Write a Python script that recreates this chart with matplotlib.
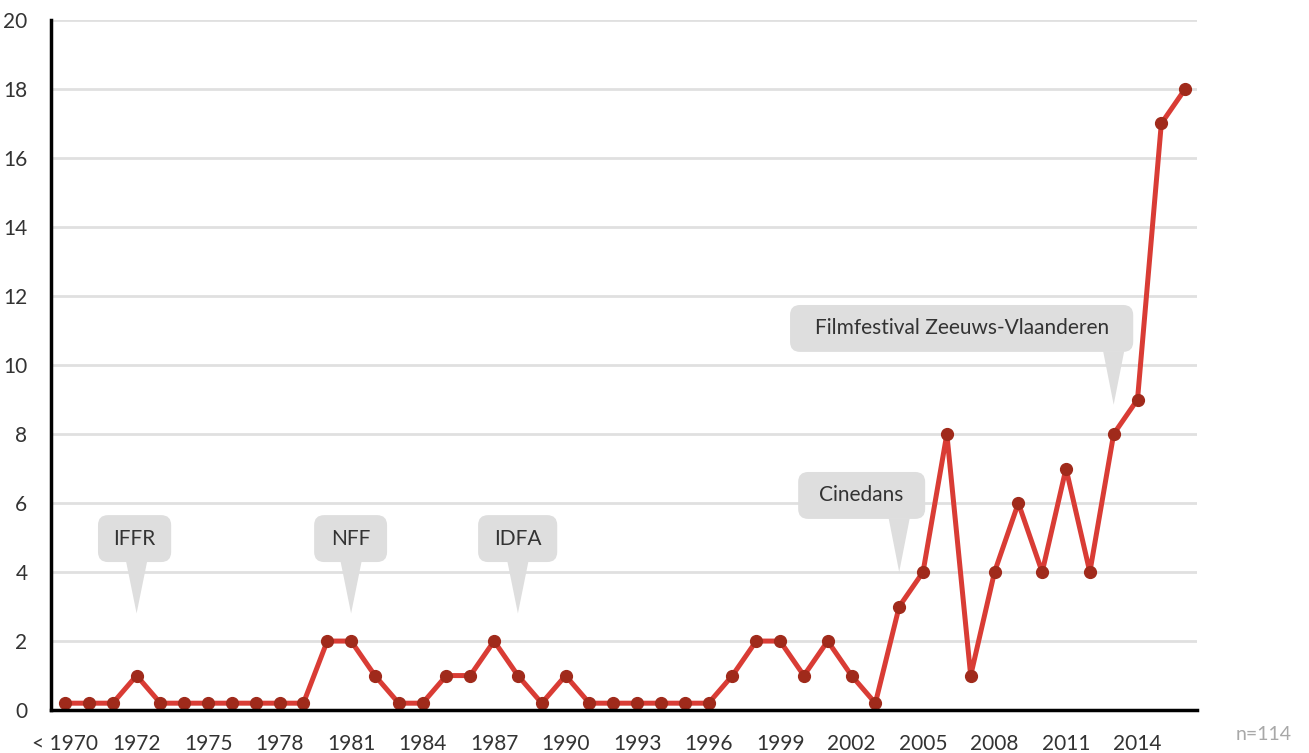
#!/usr/bin/env python

import numpy as np
import matplotlib.pyplot as plt
from matplotlib.patches import FancyBboxPatch, Polygon

# data
years = ['< 1970'] + [str(y) for y in range(1970, 2017)]
counts = [0, 0, 0, 1, 0, 0, 0, 0, 0, 0,
          0, 2, 2, 1, 0, 0, 1, 1, 2, 1,
          0, 1, 0, 0, 0, 0, 0, 0, 1, 2,
          2, 1, 2, 1, 0, 3, 4, 8, 1, 4,
          6, 4, 7, 4, 8, 9, 17, 18]
tick_labels = ['< 1970'] + [str(y) for y in range(1972, 2015, 3)]
y_ticks = list(range(0, 21, 2))

# festival callouts: label, year of tip, tip height, box (x0, x1, y0, y1)
callout_labels = ['IFFR', 'NFF', 'IDFA', 'Cinedans', 'Filmfestival Zeeuws-Vlaanderen']
callout_years = ['1972', '1981', '1988', '2004', '2013']
callout_tip = [2.8, 2.8, 2.8, 4.0, 8.85]
callout_box = [(1.38, 4.45, 4.29, 5.65),
               (10.45, 13.51, 4.29, 5.65),
               (17.33, 20.65, 4.29, 5.65),
               (30.76, 36.09, 5.54, 6.90),
               (30.42, 44.82, 10.38, 11.74)]

plt.rcParams['font.family'] = ['Lato', 'DejaVu Sans']

LINE = '#d93c35'
DOT = '#a02a1b'
TXT = '#333333'
BOX = '#dedede'


def main():
    fig = plt.figure(figsize=(13.09, 7.53), dpi=100)
    ax = fig.add_axes([0.039, 0.057, 0.8755, 0.9165])

    x = np.arange(len(years))
    # zero values are lifted a bit off the baseline, like the original
    y = np.where(np.array(counts) == 0, 0.2, counts)
    ax.plot(x, y, color=LINE, lw=3.6, zorder=3)
    ax.plot(x, y, 'o', color=DOT, ms=8.5, zorder=4)

    ax.set_xlim(-0.59, 47.5)
    ax.set_ylim(0, 20)

    ax.set_yticks(y_ticks)
    ax.set_yticklabels([str(t) for t in y_ticks])
    ax.set_xticks([years.index(t) for t in tick_labels])
    ax.set_xticklabels(tick_labels)
    ax.tick_params(length=0, labelsize=15, labelcolor=TXT)
    ax.tick_params(axis='y', pad=17)
    ax.tick_params(axis='x', pad=17)

    ax.grid(axis='y', color='#e0e0e0', lw=2)
    ax.set_axisbelow(True)
    for s in ['top', 'right']:
        ax.spines[s].set_visible(False)
    for s in ['left', 'bottom']:
        ax.spines[s].set_linewidth(2.5)
        ax.spines[s].set_color('black')
        ax.spines[s].set_zorder(5)

    # callouts
    for lab, yr, tip, (x0, x1, y0, y1) in zip(callout_labels, callout_years,
                                              callout_tip, callout_box):
        xt = years.index(yr)
        box = FancyBboxPatch((x0, y0), x1 - x0, y1 - y0,
                             boxstyle='round,pad=0,rounding_size=0.42',
                             mutation_aspect=0.69, fc=BOX, ec='none', zorder=2)
        ax.add_patch(box)
        tri = Polygon([(xt - 0.44, y0 + 0.01), (xt + 0.44, y0 + 0.01), (xt, tip)],
                      closed=True, fc=BOX, ec='none', zorder=2)
        ax.add_patch(tri)
        ax.text((x0 + x1) / 2, (y0 + y1) / 2, lab, ha='center', va='center',
                fontsize=15, color=TXT, zorder=3)

    fig.text(0.987, 0.013, 'n=114', ha='right', va='bottom',
             fontsize=14, color='#a8a8a8')

    fig.savefig('out.png', dpi=100)


if __name__ == "__main__":
    main()
